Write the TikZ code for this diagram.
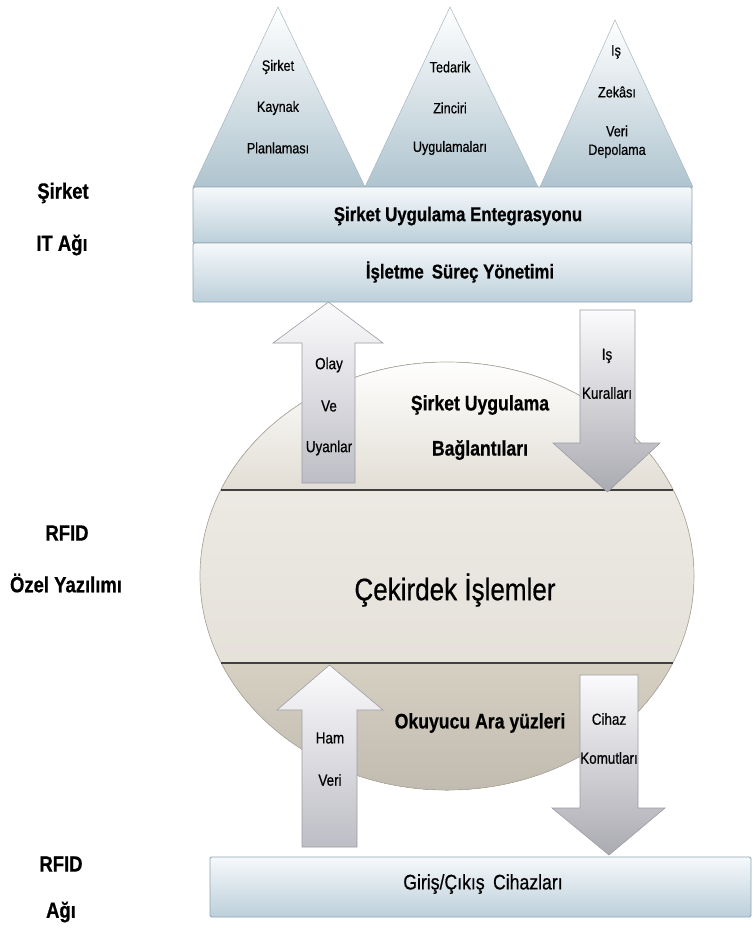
\documentclass[tikz,border=0pt]{standalone}
\usepackage{fontspec}
\setmainfont{Liberation Sans}
\newfontfamily\narrowfont[FakeStretch=0.84,FakeBold=0.6]{Liberation Sans}
\usetikzlibrary{positioning,calc}
\definecolor{bartop}{HTML}{F6F9FB}
\definecolor{barbot}{HTML}{BCCFDA}
\definecolor{barline}{HTML}{8EA4B0}
\definecolor{tribot}{HTML}{AFC4CF}
\definecolor{capbot}{HTML}{D6D0C3}
\definecolor{midtop}{HTML}{F1EFEA}
\definecolor{midbot}{HTML}{E0DCD3}
\definecolor{elline}{HTML}{B5AFA3}
\definecolor{arrtop}{HTML}{FBFBFD}
\definecolor{arrbot}{HTML}{BDBDC5}
\definecolor{arrline}{HTML}{9C9CA4}
\tikzset{main base/.style={text centered,inner sep=1pt}, }
\tikzset{bar/.style={draw=barline,line width=0.8pt,top color=bartop,bottom color=barbot,rounded corners=1.5pt}, }
\tikzset{tri/.style={draw=barline!80,line width=0.5pt,top color=white,bottom color=tribot}, }
\tikzset{uparrow/.style={draw=arrline,line width=0.6pt,top color=arrtop,bottom color=arrbot}, }
\tikzset{downarrow/.style={draw=arrline,line width=0.6pt,top color=arrtop,bottom color=arrbot!90!black}, }
\tikzset{tri text/.style={main base,font=\narrowfont\fontsize{15}{17}\selectfont}, }
\tikzset{bar text/.style={main base,font=\narrowfont\bfseries\fontsize{20}{22}\selectfont}, }
\tikzset{arr text/.style={main base,font=\narrowfont\fontsize{16}{18}\selectfont}, }
\tikzset{side text/.style={main base,font=\narrowfont\bfseries\fontsize{22}{24}\selectfont}, }
\tikzset{core text/.style={main base,font=\narrowfont\bfseries\fontsize{21}{23}\selectfont}, }
\begin{document}
\begin{tikzpicture}[x=1pt,y=-1pt]
  \useasboundingbox (0,0) rectangle (754,934);
  % ellipse (RFID ozel yazilimi)
  \fill[top color=midtop,bottom color=midbot] (447,576) ellipse [x radius=247,y radius=214];
  \begin{scope}
    \clip (447,576) ellipse [x radius=247,y radius=214];
    \fill[top color=white,bottom color=capbot!70] (0,360) rectangle (754,490);
    \fill[top color=capbot,bottom color=capbot!90!black] (0,663) rectangle (754,792);
  \end{scope}
  \draw[elline,line width=0.7pt] (447,576) ellipse [x radius=247,y radius=214];
  \draw[line width=1.3pt,black!75] (221,490) -- (673,490);
  \draw[line width=1.3pt,black!75] (221,663) -- (673,663);
%
  \node[core text] (bag1) at (480,405) {Şirket Uygulama};
  \node[core text] (bag2) at (480,450) {Bağlantıları};
  \node[core text,font=\narrowfont\fontsize{31}{34}\selectfont] (core) at (455,590) {Çekirdek İşlemler};
  \node[core text] (oku) at (480,723) {Okuyucu Ara yüzleri};
%
  % block arrows
  \path[uparrow] (302,483) -- (302,343) -- (273,343) -- (328.5,302) -- (383,343) -- (355,343) -- (355,483) -- cycle;
  \path[downarrow] (580,310) -- (635,310) -- (635,443) -- (660,443) -- (607.5,492) -- (553,443) -- (580,443) -- cycle;
  \path[uparrow] (302,847) -- (302,710) -- (277,710) -- (329.5,665) -- (383,710) -- (357,710) -- (357,847) -- cycle;
  \path[downarrow] (580,675) -- (638,675) -- (638,808) -- (665,808) -- (609,855) -- (552,808) -- (580,808) -- cycle;
  \node[arr text] (olay) at (329,365) {Olay};
  \node[arr text] (ve) at (329,406) {Ve};
  \node[arr text] (uyan) at (329,448) {Uyanlar};
  \node[arr text] (is) at (607,356) {Iş};
  \node[arr text] (kural) at (607,393) {Kuralları};
  \node[arr text] (ham) at (330,738) {Ham};
  \node[arr text] (veri) at (330,780) {Veri};
  \node[arr text] (cihaz) at (609,719) {Cihaz};
  \node[arr text] (komut) at (609,758) {Komutları};
%
  % triangles
  \path[tri] (193,187) -- (278,7) -- (365,187) -- cycle;
  \path[tri] (365,187) -- (450,7) -- (538,187) -- cycle;
  \path[tri] (540,187) -- (615,20) -- (693,187) -- cycle;
  \node[tri text] (erp1) at (278,67) {Şirket};
  \node[tri text] (erp2) at (278,108) {Kaynak};
  \node[tri text] (erp3) at (278,148) {Planlaması};
  \node[tri text] (scm1) at (450,67) {Tedarik};
  \node[tri text] (scm2) at (450,108) {Zinciri};
  \node[tri text] (scm3) at (450,148) {Uygulamaları};
  \node[tri text] (bi1) at (616,52) {Iş};
  \node[tri text] (bi2) at (617,92) {Zekâsı};
  \node[tri text] (bi3) at (617,131) {Veri};
  \node[tri text] (bi4) at (617,151) {Depolama};
%
  % bars
  \path[bar] (193,187) rectangle (692,243);
  \path[bar] (193,243) rectangle (692,302);
  \path[bar] (210,857) rectangle (751,917);
  \node[bar text] (eai) at (458,216) {Şirket Uygulama Entegrasyonu};
  \node[bar text] (bpm) at (460,272) {İşletme\, Süreç Yönetimi};
  \node[bar text,font=\narrowfont\fontsize{21}{23}\selectfont] (io) at (483,884) {Giriş/Çıkış\, Cihazları};
%
  % side labels
  \node[side text] (it1) at (63,193) {Şirket};
  \node[side text] (it2) at (62,245) {IT Ağı};
  \node[side text] (sw1) at (67,533) {RFID};
  \node[side text] (sw2) at (66,583) {Özel Yazılımı};
  \node[side text] (nw1) at (61,864) {RFID};
  \node[side text] (nw2) at (61,912) {Ağı};
\end{tikzpicture}
\end{document}
